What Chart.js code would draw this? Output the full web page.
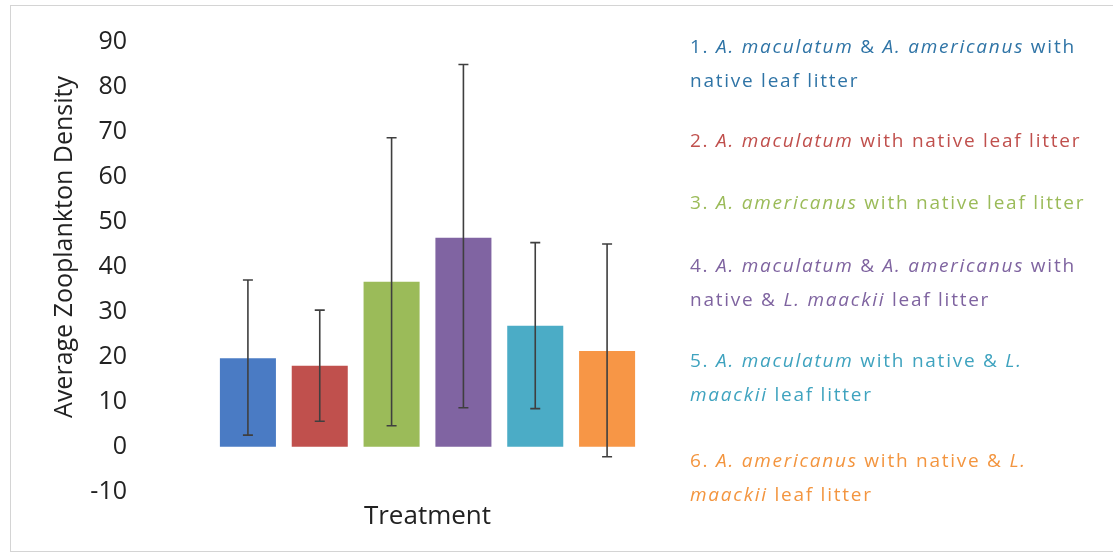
<!DOCTYPE html>
<html>
<head>
<meta charset="utf-8">
<script src="https://cdn.jsdelivr.net/npm/chart.js@4/dist/chart.umd.min.js"></script>
<style>
  html, body { margin: 0; padding: 0; background: #fff; }
  #wrap { position: relative; width: 1113px; height: 560px; overflow: hidden; background: #fff; }
  #frame { position: absolute; left: 10px; top: 5px; width: 1120px; height: 547px; border: 1px solid #d4d4d4; box-sizing: border-box; }
  #c { position: absolute; left: 0; top: 0; }
  .leg { position: absolute; left: 690px; font-family: "Open Sans", sans-serif; font-size: 19px; line-height: 34px; letter-spacing: 1.75px; white-space: nowrap; }
  .leg i { font-style: italic; }
</style>
</head>
<body>
<div id="wrap">
  <div id="frame"></div>
  <canvas id="c" width="1113" height="560"></canvas>
</div>
<script>
// ---- data ----
const categories = ["1", "2", "3", "4", "5", "6"];
const means = [19.7, 18.0, 36.7, 46.5, 26.9, 21.3];
const errLow = [2.6, 5.7, 4.7, 8.7, 8.5, -2.2];
const errHigh = [37.1, 30.4, 68.7, 85.0, 45.4, 45.1];
const barColors = ["#4a7bc4", "#c0504d", "#9bbb59", "#8064a2", "#4bacc6", "#f79646"];
const legendColors = ["#2f74a6", "#c0504d", "#9bbb59", "#7f64a0", "#3fa3bf", "#f3953f"];
const legendLines = [
  ["1. <i>A. maculatum</i> &amp; <i>A. americanus</i> with", "native leaf litter"],
  ["2. <i>A. maculatum</i> with native leaf litter"],
  ["3. <i>A. americanus</i> with native leaf litter"],
  ["4. <i>A. maculatum</i> &amp; <i>A. americanus</i> with", "native &amp; <i>L. maackii</i> leaf litter"],
  ["5. <i>A. maculatum</i> with native &amp; <i>L.</i>", "<i>maackii</i> leaf litter"],
  ["6. <i>A. americanus</i> with native &amp; <i>L.</i>", "<i>maackii</i> leaf litter"]
];
const legendTops = [29, 123, 185, 248, 343, 443];
const yTitle = "Average Zooplankton Density";
const xTitle = "Treatment";

// ---- legend (HTML text) ----
const wrap = document.getElementById('wrap');
legendLines.forEach((lines, i) => {
  const d = document.createElement('div');
  d.className = 'leg';
  d.style.top = legendTops[i] + 'px';
  d.style.color = legendColors[i];
  d.innerHTML = lines.join('<br>');
  wrap.appendChild(d);
});

// ---- error bars plugin ----
const errorBars = {
  id: 'errorBars',
  afterDatasetsDraw(chart) {
    const ctx = chart.ctx;
    const y = chart.scales.y;
    const meta = chart.getDatasetMeta(0);
    ctx.save();
    ctx.strokeStyle = '#3f3f3f';
    ctx.lineWidth = 1.6;
    meta.data.forEach((bar, i) => {
      const x = bar.x;
      const yt = y.getPixelForValue(errHigh[i]);
      const yb = y.getPixelForValue(errLow[i]);
      ctx.beginPath();
      ctx.moveTo(x, yt); ctx.lineTo(x, yb);
      ctx.moveTo(x - 5, yt); ctx.lineTo(x + 5, yt);
      ctx.moveTo(x - 5, yb); ctx.lineTo(x + 5, yb);
      ctx.stroke();
    });
    ctx.restore();
  }
};

// ---- y axis title (rotated text) ----
const yTitlePlugin = {
  id: 'yTitlePlugin',
  afterDraw(chart) {
    const ctx = chart.ctx;
    ctx.save();
    ctx.translate(65, 247);
    ctx.rotate(-Math.PI / 2);
    ctx.textAlign = 'center';
    ctx.textBaseline = 'middle';
    ctx.fillStyle = '#222';
    ctx.font = '25px "Open Sans"';
    ctx.fillText(yTitle, 0, 0);
    ctx.restore();
  }
};

new Chart(document.getElementById('c'), {
  type: 'bar',
  data: {
    labels: categories,
    datasets: [{
      data: means,
      backgroundColor: barColors,
      borderWidth: 0,
      barPercentage: 0.78,
      categoryPercentage: 1.0
    }]
  },
  options: {
    responsive: false,
    animation: false,
    events: [],
    layout: { padding: { left: 48, right: 470, top: 42, bottom: 24 } },
    plugins: { legend: { display: false }, tooltip: { enabled: false } },
    scales: {
      x: {
        grid: { display: false },
        border: { display: false },
        ticks: { display: false },
        title: { display: true, text: xTitle, color: '#222', padding: { top: 1, bottom: 4 },
                 font: { family: 'Open Sans', size: 26 } }
      },
      y: {
        min: -10, max: 90,
        grid: { display: false },
        border: { display: false },
        ticks: { stepSize: 10, padding: 77, color: '#222', font: { family: 'Open Sans', size: 25 } },
        afterFit(scale) { scale.width = 164; scale.paddingTop = 14; scale.paddingBottom = 14; }
      }
    }
  },
  plugins: [errorBars, yTitlePlugin]
});
</script>
</body>
</html>
